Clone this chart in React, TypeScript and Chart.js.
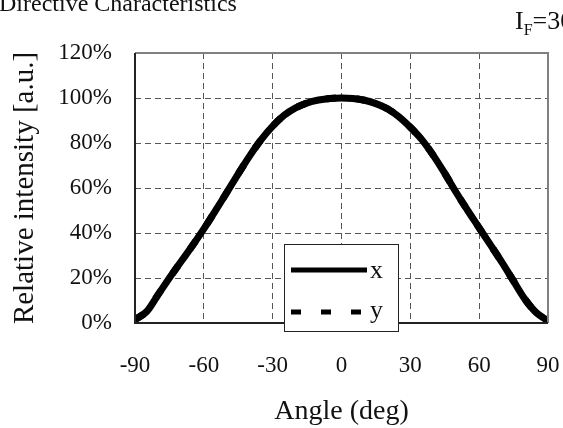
import React, { useEffect, useRef } from "react";
import { Chart, registerables } from "chart.js";

Chart.register(...registerables);

const angles = [-90, -85, -80, -75, -70, -65, -60, -55, -50, -45, -40, -35, -30, -25, -20, -15, -10, -5, 0, 5, 10, 15, 20, 25, 30, 35, 40, 45, 50, 55, 60, 65, 70, 75, 80, 85, 90];
const seriesX = [1.5, 5, 12.5, 20, 27.2, 34.3, 41.8, 49.8, 58, 66.3, 74.3, 81.5, 87.5, 92.3, 95.6, 97.8, 99.1, 99.8, 100, 99.8, 99, 97.5, 95.2, 91.7, 87, 81.5, 74.5, 66.5, 58, 50, 42.3, 34.6, 26.8, 18.6, 10.5, 4.5, 1];
const seriesY = [1.5, 5, 12.5, 20, 27.2, 34.3, 41.8, 49.8, 58, 66.3, 74.3, 81.5, 87.5, 92.3, 95.6, 97.8, 99.1, 99.8, 100, 99.8, 99, 97.5, 95.2, 91.7, 87, 81.5, 74.5, 66.5, 58, 50, 42.3, 34.6, 26.8, 18.6, 10.5, 4.5, 1];
const xTicks = [-90, -60, -30, 0, 30, 60, 90];
const yTicks = [0, 20, 40, 60, 80, 100, 120];
const seriesNames = ["x", "y"];
const titleText = "Directive Characteristics";
const conditionMain = "I";
const conditionSub = "F";
const conditionRest = "=30mA";
const xTitle = "Angle (deg)";
const yTitle = "Relative intensity [a.u.]";

const FONT = "'Liberation Serif', 'Times New Roman', serif";

const decorPlugin = {
  id: "decor",
  afterDraw(chart: any) {
    const { ctx, chartArea } = chart;
    const { left, right, top, bottom } = chartArea;
    ctx.save();
    ctx.strokeStyle = "#808080";
    ctx.lineWidth = 2;
    ctx.beginPath();
    ctx.moveTo(left, top);
    ctx.lineTo(right, top);
    ctx.lineTo(right, bottom);
    ctx.stroke();
    ctx.strokeStyle = "#222";
    ctx.beginPath();
    ctx.moveTo(left, top);
    ctx.lineTo(left, bottom);
    ctx.lineTo(right, bottom);
    ctx.stroke();

    ctx.fillStyle = "#111";
    ctx.textBaseline = "alphabetic";
    ctx.textAlign = "left";
    ctx.font = `24px ${FONT}`;
    ctx.fillText(titleText, -1, 11);
    ctx.font = `26px ${FONT}`;
    let cx = 515;
    ctx.fillText(conditionMain, cx, 29);
    cx += ctx.measureText(conditionMain).width;
    ctx.font = `16px ${FONT}`;
    ctx.fillText(conditionSub, cx, 35);
    cx += ctx.measureText(conditionSub).width;
    ctx.font = `26px ${FONT}`;
    ctx.fillText(conditionRest, cx, 29);

    const bx = 284, by = 244, bw = 114, bh = 87;
    ctx.fillStyle = "#fff";
    ctx.fillRect(bx, by, bw, bh);
    ctx.strokeStyle = "#222";
    ctx.lineWidth = 1;
    ctx.strokeRect(bx + 0.5, by + 0.5, bw, bh);
    ctx.strokeStyle = "#000";
    ctx.lineWidth = 5;
    ctx.beginPath();
    ctx.moveTo(291, 270);
    ctx.lineTo(367, 270);
    ctx.stroke();
    ctx.setLineDash([10, 20]);
    ctx.beginPath();
    ctx.moveTo(291, 312);
    ctx.lineTo(367, 312);
    ctx.stroke();
    ctx.setLineDash([]);
    ctx.fillStyle = "#111";
    ctx.font = `26px ${FONT}`;
    ctx.textBaseline = "middle";
    ctx.fillText(seriesNames[0], 370, 271);
    ctx.fillText(seriesNames[1], 370, 311);
    ctx.restore();
  },
};

export default function App() {
  const ref = useRef<HTMLCanvasElement>(null);
  useEffect(() => {
    if (!ref.current) return;
    const chart = new Chart(ref.current, {
      type: "line",
      data: {
        datasets: [
          {
            label: seriesNames[1],
            data: angles.map((a, i) => ({ x: a, y: seriesY[i] })),
            borderColor: "#000",
            borderWidth: 7,
            borderDash: [10, 20],
            pointRadius: 0,
            tension: 0.35,
            fill: false,
            order: 2,
          },
          {
            label: seriesNames[0],
            data: angles.map((a, i) => ({ x: a, y: seriesX[i] })),
            borderColor: "#000",
            borderWidth: 7,
            pointRadius: 0,
            tension: 0.35,
            fill: false,
            order: 1,
          },
        ],
      },
      options: {
        animation: false,
        responsive: false,
        maintainAspectRatio: false,
        layout: { padding: { top: 53, right: 15, left: 0, bottom: 0 } },
        plugins: { legend: { display: false }, tooltip: { enabled: false }, title: { display: false } },
        scales: {
          x: {
            type: "linear",
            min: -90,
            max: 90,
            afterBuildTicks: (s: any) => { s.ticks = xTicks.map((v) => ({ value: v })); },
            afterFit: (s: any) => { s.height = 105; s.paddingLeft = 0; s.paddingRight = 0; },
            ticks: { color: "#111", font: { family: FONT, size: 23 }, padding: 29, maxRotation: 0 },
            grid: { color: "#555", lineWidth: 1, drawTicks: false },
            border: { display: false, dash: [6, 4] },
            title: { display: true, text: xTitle, color: "#111", font: { family: FONT, size: 28 }, padding: { top: 0, bottom: 0 } },
          },
          y: {
            min: 0,
            max: 120,
            afterBuildTicks: (s: any) => { s.ticks = yTicks.map((v) => ({ value: v })); },
            afterFit: (s: any) => { s.width = 135; s.paddingTop = 0; s.paddingBottom = 0; },
            ticks: { color: "#111", font: { family: FONT, size: 23 }, padding: 23, callback: (v: any) => v + "%" },
            grid: { color: "#555", lineWidth: 1, drawTicks: false },
            border: { display: false, dash: [6, 4] },
            title: { display: true, text: yTitle, color: "#111", font: { family: FONT, size: 29 }, padding: { top: 8, bottom: 0 } },
          },
        },
      },
      plugins: [decorPlugin],
    });
    return () => chart.destroy();
  }, []);
  return (
    <div style={{ position: "fixed", left: 0, top: 0, width: 563, height: 428, background: "#fff" }}>
      <canvas ref={ref} width={563} height={428} style={{ width: 563, height: 428 }} />
    </div>
  );
}
